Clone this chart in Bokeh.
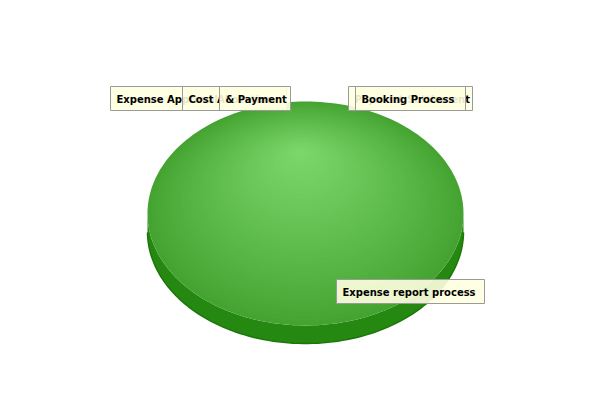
import numpy as np
from bokeh.core.properties import value
from bokeh.embed import file_html
from bokeh.models import Range1d
from bokeh.plotting import figure
from bokeh.resources import INLINE

# Pie data: one process holds practically the whole share
categories = ["Expense Approval", "Cost Allocation", "& Payment",
              "Payment Settlement", "Booking Process", "Expense report process"]
shares = [0.0, 0.0, 0.0, 0.0, 0.0, 100.0]

# Label box layout (page pixels): left, right, top
box_left = [110, 182, 219, 348, 355, 336]
box_right = [222, 286, 290, 472, 465, 484]
box_top = [86, 86, 86, 86, 86, 279]
box_h = 24

# Pie geometry (page pixels)
cx, cy, rx, ry, depth = 305, 213, 158, 112, 18
hx, hy = 300, 150

p = figure(width=584, height=384, output_backend="svg", toolbar_location=None,
           x_range=Range1d(0, 584), y_range=Range1d(384, 0), min_border=0)
p.axis.visible = False
p.grid.visible = False
p.outline_line_color = None


def mix(c1, c2, t):
    a = np.array([int(c1[i:i + 2], 16) for i in (1, 3, 5)])
    b = np.array([int(c2[i:i + 2], 16) for i in (1, 3, 5)])
    r = (a + (b - a) * t).round().astype(int)
    return "#%02x%02x%02x" % tuple(r)


total = sum(shares)
start = np.pi / 2
for cat, v in zip(categories, shares):
    if v <= 0:
        continue
    sweep = 2 * np.pi * v / total
    a = np.linspace(start, start - sweep, 200)
    full = sweep >= 2 * np.pi - 1e-9

    # side wall (only the front facing part, angles in the lower half)
    side_a = a[np.sin(a) <= 0.001]
    if len(side_a) > 1:
        side_a = np.sort(side_a)
        sx = cx + rx * np.cos(side_a)
        sy = cy - ry * np.sin(side_a)
        xs = np.concatenate([sx, sx[::-1]])
        ys = np.concatenate([sy, sy[::-1] + depth])
        p.patch(xs, ys, fill_color="#258811", line_color=None)
        p.line(sx, sy + depth, line_color="#1c760a", line_width=1.5)

    px = cx + rx * np.cos(a)
    py = cy - ry * np.sin(a)
    if not full:
        px = np.concatenate([[cx], px])
        py = np.concatenate([[cy], py])

    # radial shading approximated by shrinking layers towards the highlight
    n = 40
    for k in range(n):
        s = 1 - k / n
        t = (k / n) ** 0.9
        col = mix("#44a331", "#7dd86b", t)
        p.patch(hx + s * (px - hx), hy + s * (py - hy), fill_color=col, line_color=None)
    start -= sweep

# labels
for cat, l, r, t in zip(categories, box_left, box_right, box_top):
    p.quad(left=l, right=r, top=t, bottom=t + box_h, fill_color="#ffffe0",
           fill_alpha=0.9, line_color="#9a9a9a", line_width=1)
    p.text(x=[l + 6], y=[t + box_h / 2 + 0.5], text=[cat], text_font=value("DejaVu Sans"),
           text_font_style="bold", text_font_size="10px", text_baseline="middle",
           text_color="#000000")

open("out.html", "w").write(file_html(p, INLINE))
